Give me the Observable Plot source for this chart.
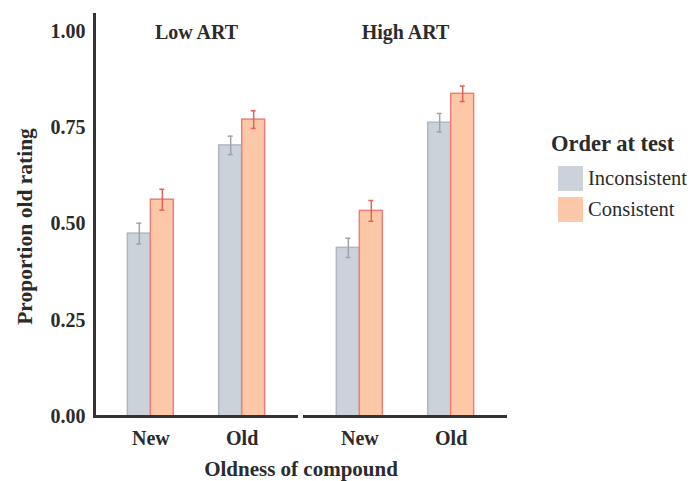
<!DOCTYPE html>
<html>
<head>
<meta charset="utf-8">
<script src="https://cdn.jsdelivr.net/npm/d3@7"></script>
<script src="https://cdn.jsdelivr.net/npm/@observablehq/plot@0.6"></script>
<style>
  html, body { margin: 0; padding: 0; background: #fff; }
  #wrap { position: relative; width: 690px; height: 481px; font-family: "Liberation Serif", "Times New Roman", serif; color: #2b2b2b; }
  #legend { position: absolute; left: 551px; top: 131px; }
  #legend .title { font-weight: bold; font-size: 22.5px; line-height: 26px; white-space: nowrap; }
  #legend .item { position: absolute; left: 7px; display: flex; align-items: center; font-size: 20.5px; white-space: nowrap; }
  #legend .sw { width: 25px; height: 25px; margin-right: 5px; }
</style>
</head>
<body>
<div id="wrap">
  <div id="chart"></div>
  <div id="legend"></div>
</div>
<script>
// ---- data ----
const arts = ["Low ART", "High ART"];
const oldness = ["New", "Old"];
const orders = ["Inconsistent", "Consistent"];
const lowInconsistent = [0.475, 0.704];
const lowConsistent = [0.563, 0.771];
const highInconsistent = [0.438, 0.763];
const highConsistent = [0.534, 0.838];
const lowInconsistentSE = [0.027, 0.024];
const lowConsistentSE = [0.027, 0.023];
const highInconsistentSE = [0.025, 0.024];
const highConsistentSE = [0.027, 0.020];
const yTicks = [0, 0.25, 0.5, 0.75, 1.0];

const series = {
  "Low ART": {Inconsistent: [lowInconsistent, lowInconsistentSE], Consistent: [lowConsistent, lowConsistentSE]},
  "High ART": {Inconsistent: [highInconsistent, highInconsistentSE], Consistent: [highConsistent, highConsistentSE]}
};
const rows = [];
for (const art of arts) for (const order of orders) oldness.forEach((old, i) => {
  const [vals, ses] = series[art][order];
  rows.push({art, order, old, value: vals[i], lo: vals[i] - ses[i], hi: vals[i] + ses[i]});
});

const fillColor = {Inconsistent: "#cbd2d9", Consistent: "#fdc8a8"};
const strokeColor = {Inconsistent: "#afb8c1", Consistent: "#ee7f78"};
const errColor = {Inconsistent: "#9aa4ae", Consistent: "#e55f59"};
const half = 23;

const inc = rows.filter(d => d.order === "Inconsistent");
const con = rows.filter(d => d.order === "Consistent");

const chart = Plot.plot({
  width: 690,
  height: 481,
  marginLeft: 94,
  marginRight: 183,
  marginTop: 14,
  marginBottom: 65,
  style: {fontFamily: "'Liberation Serif', 'Times New Roman', serif", fontSize: "20px", fontWeight: "bold", color: "#2b2b2b", background: "#fff"},
  fx: {domain: arts, paddingInner: 0.024, paddingOuter: 0, round: false},
  x: {domain: oldness, paddingInner: 0.497, paddingOuter: 0.365, round: false},
  y: {domain: [0, 1.044]},
  marks: [
    Plot.barY(inc, {fx: "art", x: "old", y: "value", fill: fillColor.Inconsistent, stroke: strokeColor.Inconsistent, strokeWidth: 1.5, insetRight: half}),
    Plot.barY(con, {fx: "art", x: "old", y: "value", fill: fillColor.Consistent, stroke: strokeColor.Consistent, strokeWidth: 1.5, insetLeft: half}),
    Plot.ruleX(inc, {fx: "art", x: "old", y1: "lo", y2: "hi", dx: -half / 2, stroke: errColor.Inconsistent, strokeWidth: 1.5}),
    Plot.ruleX(con, {fx: "art", x: "old", y1: "lo", y2: "hi", dx: half / 2, stroke: errColor.Consistent, strokeWidth: 1.5}),
    Plot.tickY(inc, {fx: "art", x: "old", y: "hi", insetLeft: 9, insetRight: 32, stroke: errColor.Inconsistent, strokeWidth: 1.5}),
    Plot.tickY(inc, {fx: "art", x: "old", y: "lo", insetLeft: 9, insetRight: 32, stroke: errColor.Inconsistent, strokeWidth: 1.5}),
    Plot.tickY(con, {fx: "art", x: "old", y: "hi", insetLeft: 32, insetRight: 9, stroke: errColor.Consistent, strokeWidth: 1.5}),
    Plot.tickY(con, {fx: "art", x: "old", y: "lo", insetLeft: 32, insetRight: 9, stroke: errColor.Consistent, strokeWidth: 1.5}),
    Plot.ruleY([0], {stroke: "#333", strokeWidth: 3}),
    Plot.frame({anchor: "left", facetAnchor: "left", stroke: "#333", strokeWidth: 3}),
    Plot.axisY({ticks: yTicks, tickFormat: d3.format(".2f"), tickSize: 0, tickPadding: 9, label: null, fontSize: 20}),
    Plot.axisX({tickSize: 0, tickPadding: 14, label: null, fontSize: 20}),
    Plot.axisFx({anchor: "bottom", tickSize: 0, tickFormat: () => "", label: "Oldness of compound", labelAnchor: "center", labelArrow: "none", labelOffset: 59, fontSize: 21}),
    Plot.text(arts, {fx: d => d, text: d => d, frameAnchor: "top", dy: 10, fontSize: 20, fontWeight: "bold"}),
    Plot.text(["Low ART"], {fx: d => d, text: () => "Proportion old rating", frameAnchor: "left", textAnchor: "middle", rotate: -90, dx: -69, dy: 11, fontSize: 21.5, fontWeight: "bold"})
  ]
});
document.getElementById("chart").appendChild(chart);

// legend
const legend = document.getElementById("legend");
const t = document.createElement("div");
t.className = "title";
t.textContent = "Order at test";
legend.appendChild(t);
orders.forEach((o, i) => {
  const item = document.createElement("div");
  item.className = "item";
  item.style.top = (35 + i * 31) + "px";
  const sw = document.createElement("div");
  sw.className = "sw";
  sw.style.background = fillColor[o];
  const lab = document.createElement("span");
  lab.textContent = o;
  item.appendChild(sw);
  item.appendChild(lab);
  legend.appendChild(item);
});
</script>
</body>
</html>
